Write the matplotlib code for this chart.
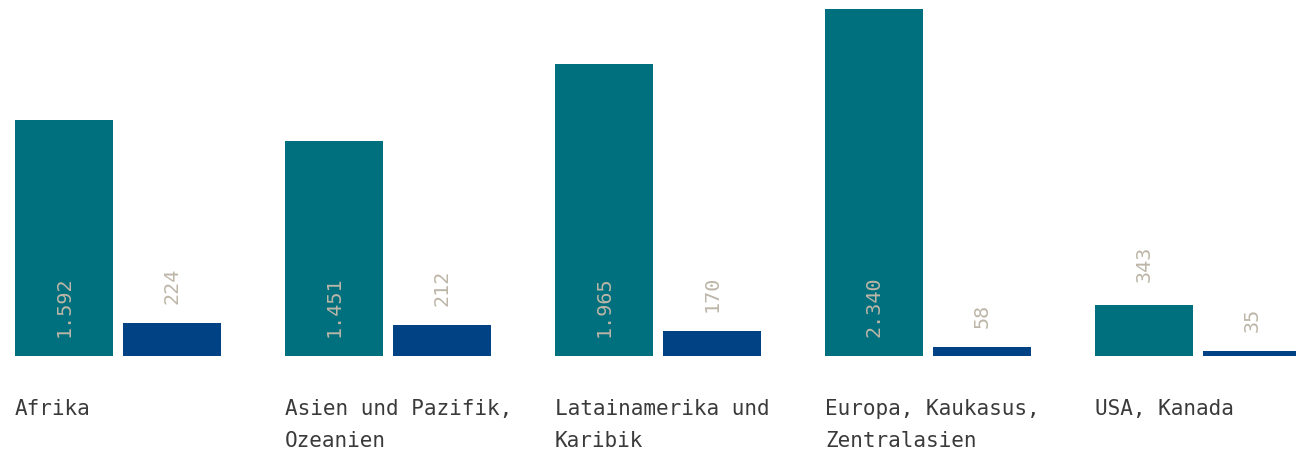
import matplotlib
matplotlib.use("Agg")
import matplotlib.pyplot as plt
import numpy as np

# values
categories = ["Afrika", "Asien und Pazifik,\nOzeanien", "Latainamerika und\nKaribik",
              "Europa, Kaukasus,\nZentralasien", "USA, Kanada"]
teal_vals = [1592, 1451, 1965, 2340, 343]
blue_vals = [224, 212, 170, 58, 35]
teal_labels = ["1.592", "1.451", "1.965", "2.340", "343"]
blue_labels = ["224", "212", "170", "58", "35"]

TEAL = "#006f7e"
BLUE = "#004284"
LABEL = "#bdb6a8"
TEXT = "#3a3a3a"

plt.rcParams['font.family'] = ['DejaVu Sans Mono']

W, H = 1296, 457
fig = plt.figure(figsize=(W / 100, H / 100), dpi=100)
base = 101  # baseline in px from bottom
ax = fig.add_axes([0, base / H, 1, (H - base) / H])

x = np.arange(len(categories))
bw = 98 / 270
off = 54 / 270

ax.bar(x - off, teal_vals, width=bw, color=TEAL)
ax.bar(x + off, blue_vals, width=bw, color=BLUE)

ax.set_xlim(-118 / 270, (W - 118) / 270)
ax.set_ylim(0, (H - base) / 0.1485)
ax.axis("off")

# value labels
for i in range(len(categories)):
    if teal_vals[i] > 1000:
        ax.annotate(teal_labels[i], (x[i] - off, 0), xytext=(0, 19), textcoords="offset pixels",
                    rotation=90, ha="center", va="bottom", color=LABEL, fontsize=14.5)
    else:
        ax.annotate(teal_labels[i], (x[i] - off, teal_vals[i]), xytext=(0, 23), textcoords="offset pixels",
                    rotation=90, ha="center", va="bottom", color=LABEL, fontsize=14.5)
    ax.annotate(blue_labels[i], (x[i] + off, blue_vals[i]), xytext=(0, 19), textcoords="offset pixels",
                rotation=90, ha="center", va="bottom", color=LABEL, fontsize=14.5)

# category labels
for i, c in enumerate(categories):
    ax.annotate(c, (x[i] - off - bw / 2, 0), xytext=(0, -43), textcoords="offset pixels",
                ha="left", va="top", color=TEXT, fontsize=15.1, linespacing=1.72,
                annotation_clip=False)

fig.savefig("out.png", dpi=100)
